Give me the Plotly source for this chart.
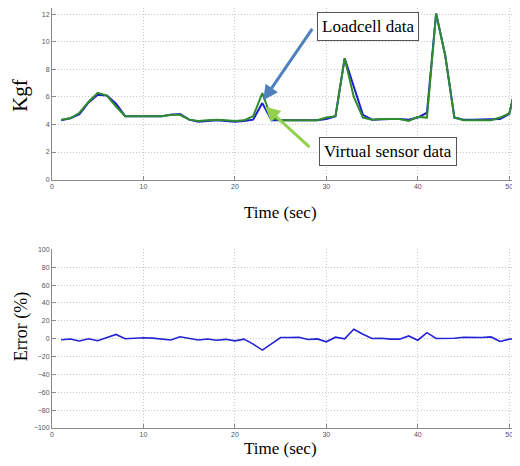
import plotly.graph_objects as go
from plotly.subplots import make_subplots

time_s = list(range(1, 52))
loadcell = [4.3, 4.45, 4.75, 5.6, 6.15, 6.1, 5.5, 4.6, 4.6, 4.6,
            4.6, 4.6, 4.7, 4.75, 4.35, 4.2, 4.25, 4.3, 4.25, 4.2,
            4.25, 4.35, 5.55, 4.3, 4.3, 4.3, 4.35, 4.35, 4.3, 4.4,
            4.6, 8.8, 6.8, 4.7, 4.35, 4.4, 4.4, 4.4, 4.35, 4.5,
            4.85, 12.05, 9.0, 4.5, 4.35, 4.35, 4.35, 4.35, 4.4, 4.75,
            7.6]
virtual = [4.35, 4.45, 4.85, 5.65, 6.3, 6.1, 5.3, 4.6, 4.6, 4.6,
           4.6, 4.6, 4.7, 4.7, 4.35, 4.25, 4.3, 4.35, 4.3, 4.25,
           4.3, 4.6, 6.28, 4.45, 4.3, 4.3, 4.3, 4.35, 4.3, 4.5,
           4.6, 8.8, 6.0, 4.5, 4.35, 4.4, 4.4, 4.4, 4.25, 4.55,
           4.5, 12.05, 9.0, 4.5, 4.3, 4.3, 4.3, 4.3, 4.5, 4.8,
           7.6]
error_pct = [-1.1, -0.4, -2.6, 0.0, -2.2, 1.5, 4.8, 0.0, 0.7, 1.0,
             0.7, -0.4, -1.5, 2.2, 0.0, -1.5, -0.4, -1.8, -0.7, -2.4,
             -0.5, -6.0, -12.8, -6.0, 1.3, 1.3, 1.7, -0.9, -0.2, -3.5,
             1.7, -0.2, 10.6, 5.0, 0.2, 0.5, -0.5, -0.5, 3.1, -1.7,
             6.8, 0.2, 0.0, 0.5, 1.7, 1.3, 1.3, 2.0, -3.1, -0.5,
             0.0]
kgf_ticks = [0, 2, 4, 6, 8, 10, 12]
err_ticks = list(range(-100, 101, 20))
time_ticks = [0, 10, 20, 30, 40, 50]

# page has an 8px body margin; work in viewport pixels and shift
OFF = 8
W, H = 520 - 2 * OFF, 466 - 2 * OFF
L, R, T, B = 52 - OFF, 0, 0, 30
pw, ph = W - L - R, H - T - B
AX_BOT = OFF + T + ph          # viewport y of the lower axis bottom
AX_TOP = OFF + T               # viewport y of the upper axis top

def px(xv):
    return (xv - OFF - L) / pw

def py(yv):
    return (AX_BOT - yv) / ph

ref_top, ref_bot = 7.0, 428.0
def ry(yv):
    return AX_TOP + (yv - ref_top) * (AX_BOT - AX_TOP) / (ref_bot - ref_top)

fig = make_subplots(rows=2, cols=1)
fig.update_layout(
    yaxis=dict(domain=[py(ry(179)), 1.0]),
    yaxis2=dict(domain=[0.0, py(ry(249))]),
)

fig.add_trace(go.Scatter(x=time_s, y=loadcell, mode="lines",
                         line=dict(color="#1f1fd0", width=2), name="Loadcell data"),
              row=1, col=1)
fig.add_trace(go.Scatter(x=time_s, y=virtual, mode="lines",
                         line=dict(color="#2e8b2e", width=2), name="Virtual sensor data"),
              row=1, col=1)
fig.add_trace(go.Scatter(x=time_s, y=error_pct, mode="lines",
                         line=dict(color="#2323d6", width=1.6), name="Error"),
              row=2, col=1)

axis_common = dict(
    showgrid=True, gridcolor="#c8c8c8", griddash="1px,2px", gridwidth=1,
    showline=True, linecolor="#8a8a8a", linewidth=1, mirror=False,
    ticks="inside", ticklen=4, tickcolor="#8a8a8a",
    tickfont=dict(family="Arial", size=7, color="#555555"),
    zeroline=False, automargin=False,
)
fig.update_xaxes(range=[0, 50.3], tickvals=time_ticks, ticklabeloverflow="allow", **axis_common)
fig.update_yaxes(**axis_common)
fig.update_yaxes(range=[0, 12.45], tickvals=kgf_ticks, row=1, col=1)
fig.update_yaxes(range=[-100, 100], tickvals=err_ticks, row=2, col=1)

serif = "Liberation Serif"
ctr = dict(xref="paper", yref="paper", xanchor="center", yanchor="middle", showarrow=False)
ann = []
ann.append(dict(text="Kgf", x=px(20), y=py(ry(95)), textangle=-90,
                font=dict(family=serif, size=21, color="#000"), **ctr))
ann.append(dict(text="Time (sec)", x=px(280), y=py(ry(212)),
                font=dict(family=serif, size=17, color="#000"), **ctr))
ann.append(dict(text="Error (%)", x=px(21), y=py(ry(327)), textangle=-90,
                font=dict(family=serif, size=18, color="#000"), **ctr))
ann.append(dict(text="Time (sec)", x=px(280), y=py(448),
                font=dict(family=serif, size=17, color="#000"), **ctr))
# arrows
ann.append(dict(text="", x=23.1, y=5.75, xref="x", yref="y", showarrow=True,
                ax=50, ay=-73, arrowcolor="#4f81bd", arrowwidth=3, arrowhead=2, arrowsize=1))
ann.append(dict(text="", x=23.3, y=5.3, xref="x", yref="y", showarrow=True,
                ax=46, ay=42, arrowcolor="#92d050", arrowwidth=3, arrowhead=2, arrowsize=1))
# label boxes
ann.append(dict(text="Loadcell data", x=px(368), y=py(ry(25.5)),
                bgcolor="white", bordercolor="#555555", borderwidth=1, borderpad=4,
                font=dict(family=serif, size=17, color="#000"), **ctr))
ann.append(dict(text="Virtual sensor data", x=px(387.5), y=py(ry(150.5)),
                bgcolor="white", bordercolor="#555555", borderwidth=1, borderpad=4,
                font=dict(family=serif, size=17, color="#000"), **ctr))

fig.update_layout(
    width=W, height=H,
    margin=dict(l=L, r=R, t=T, b=B),
    paper_bgcolor="white", plot_bgcolor="white",
    showlegend=False,
    annotations=ann,
)

fig.write_html("out.html")
